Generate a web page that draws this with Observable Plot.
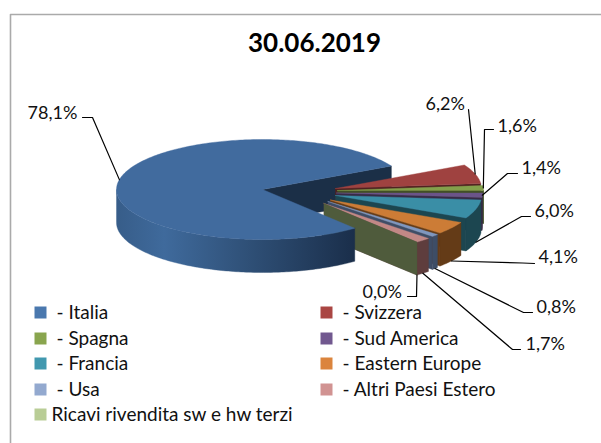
<!DOCTYPE html>
<html>
<head>
<meta charset="utf-8">
<script src="https://cdn.jsdelivr.net/npm/d3@7"></script>
<script src="https://cdn.jsdelivr.net/npm/@observablehq/plot@0.6"></script>
<style>html,body{margin:0;padding:0;background:#fff}svg{display:block}</style>
</head>
<body>
<div id="chart"></div>
<script>
// --- data ---
const titleText = "30.06.2019";
const categories = ["- Italia","- Svizzera","- Spagna","- Sud America","- Francia","- Eastern Europe","- Usa","- Altri Paesi Estero","Ricavi rivendita sw e hw terzi"];
const values = [78.1,6.2,1.6,1.4,6.0,4.1,0.8,1.7,0.0];

// --- styling ---
const legendColors = ["#4a78ae","#aa4643","#89a54e","#71588f","#4198af","#db843d","#93a9cf","#d19392","#b9cd96"];
const topColors  = ["#416b9e","#9f4240","#83a04b","#6b5489","#3a8ea6","#cc7c36","#7f97bf","#c28886","#b9cd96"];
const sideColors = ["#2b4a70","#4e2120","#414f26","#372b46","#1c4650","#643b17","#3e4d66","#5e3d3d","#4f5b3c"];
const FONT = "Lato, 'Open Sans', sans-serif";

// --- pie layout: ellipse, extrusion and the exploded origin of each slice ---
const RX = 146, RY = 50, DEPTH = 33, START = 50.8;
const origins = [[262,189],[335,188],[337,190],[336,192.5],[335,195],[330,199.5],[327.5,201],[323.5,203],[323.5,203]];
const rad = a => a * Math.PI / 180;
const rim = (o, a, dz = 0) => [o[0] + RX * Math.cos(rad(a)), o[1] + RY * Math.sin(rad(a)) + dz];
const arc = (o, a, b, dz = 0) => {
  const n = Math.max(1, Math.ceil(Math.abs(b - a)));
  return d3.range(n + 1).map(i => rim(o, a + (b - a) * i / n, dz));
};

let cum = START;
const slices = values.map((v, i) => {
  const a0 = cum, b0 = cum + v * 3.6; cum = b0;
  // small slices wrap past 360 degrees: express them around 0 (the right-hand side)
  const shift = i === 0 ? 0 : 360;
  return {i, v, a: a0 - shift, b: b0 - shift, mid: (a0 + b0) / 2 - shift, o: origins[i]};
});

const poly = (id, pts, fill) => pts.concat([pts[0]]).map(p => ({id, x: p[0], y: p[1], fill}));
const down = ([x, y]) => [x, y + DEPTH];

const faces = [];
const blue = slices[0];
// upper cut face of the big slice, seen through the gap
{
  const e = rim(blue.o, blue.b);
  faces.push(...poly("cut0", [blue.o, e, down(e), down(blue.o)], "#1b2f47"));
}
slices.slice(1).forEach(s => {
  const e = rim(s.o, s.b);
  // cut face at the slice's end
  faces.push(...poly("cut" + s.i, [s.o, e, down(e), down(s.o)], sideColors[s.i]));
  // outer wall, where it faces the viewer
  const a0 = Math.max(s.a, 0);
  if (s.b > a0) faces.push(...poly("wall" + s.i, arc(s.o, a0, s.b).concat(arc(s.o, s.b, a0, DEPTH)), sideColors[s.i]));
  // top
  if (s.v > 0) faces.push(...poly("top" + s.i, [s.o].concat(arc(s.o, s.a, s.b)), topColors[s.i]));
});

const blueWall = poly("wall0", arc(blue.o, blue.a, 180).concat(arc(blue.o, 180, blue.a, DEPTH)), null);
const blueTop = poly("top0", [blue.o].concat(arc(blue.o, blue.a, blue.b)), topColors[0]);

// --- data labels: text position and leader elbow per slice ---
const labelAt = [[27,118],[425,109],[497,131],[521,173],[534,216],[538,262],[536,312],[525,349],[362,297]];
const leaderEnd = [[[92,117],[82,117]],[[468,109]],[[484,129],[493,129]],[[507,173],[517,173]],[[521,216],[530,216]],[[522,262.5],[534,263]],[[523,312],[532,312]],[[512,349],[520,349]],[[416,296],[407,296]]];
const labels = slices.map(s => ({
  text: s.v.toFixed(1).replace(".", ","),
  x: labelAt[s.i][0], y: labelAt[s.i][1]
}));
const leaders = slices.flatMap(s => {
  const front = s.mid > 10 && s.mid < 170;
  const st = rim(s.o, s.mid, front ? DEPTH : 0);
  return [st, ...leaderEnd[s.i]].map(p => ({id: s.i, x: p[0], y: p[1]}));
});

// --- legend ---
const rowY = [312, 338, 363, 389, 414];
const legend = categories.map((c, i) => {
  const col = i % 2, row = Math.floor(i / 2);
  return {c, color: legendColors[i], sx: col ? 326 : 40, tx: i === 8 ? 51 : (col ? 342 : 56), y: rowY[row]};
});

// --- frame (open at right and bottom like the cropped original) ---
const frame = [{x:10,y:443},{x:10,y:14},{x:601,y:14}];

const gradient = () => {
  const s = d3.create("svg:defs");
  const g = s.append("linearGradient").attr("id","blueWall").attr("gradientUnits","userSpaceOnUse")
    .attr("x1",116).attr("x2",355).attr("y1",0).attr("y2",0);
  [[0,"#375d89"],[0.2,"#3f6a9c"],[0.55,"#2f5077"],[1,"#1a2e4a"]].forEach(([o,c]) =>
    g.append("stop").attr("offset",o).attr("stop-color",c));
  return s.node();
};

const chart = Plot.plot({
  width: 601, height: 443,
  marginTop: 0, marginRight: 0, marginBottom: 0, marginLeft: 0,
  x: {domain: [0, 601], range: [0, 601], axis: null},
  y: {domain: [0, 443], range: [0, 443], axis: null},
  color: {type: "identity"},
  style: {background: "#fff", fontFamily: FONT},
  marks: [
    gradient,
    Plot.line(frame, {x: "x", y: "y", stroke: "#aaa", strokeWidth: 1.6}),
    Plot.text([titleText], {x: 314, y: 51, text: d => d, fontSize: 26, fontWeight: 700, fontFamily: FONT, fill: "#000", lineAnchor: "bottom"}),
    Plot.line(faces, {x: "x", y: "y", z: "id", fill: "fill", stroke: "fill", strokeWidth: 0.4, curve: "linear"}),
    Plot.line(blueWall, {x: "x", y: "y", z: "id", fill: "url(#blueWall)", stroke: "url(#blueWall)", strokeWidth: 0.4}),
    Plot.line(blueTop, {x: "x", y: "y", z: "id", fill: "fill", stroke: "fill", strokeWidth: 0.4}),
    Plot.line(leaders, {x: "x", y: "y", z: "id", stroke: "#000", strokeWidth: 1.2}),
    Plot.text(labels, {x: "x", y: "y", text: d => d.text + "%", textAnchor: "start", lineAnchor: "bottom", fontSize: 18, fontFamily: FONT, fill: "#111"}),
    Plot.dot(legend, {x: "sx", y: "y", symbol: "square", r: 6.77, fill: "color", stroke: "none"}),
    Plot.text(legend, {x: "tx", y: "y", text: "c", textAnchor: "start", fontSize: 19, fontFamily: FONT, fill: "#111"})
  ]
});
document.getElementById("chart").appendChild(chart);
</script>
</body>
</html>
